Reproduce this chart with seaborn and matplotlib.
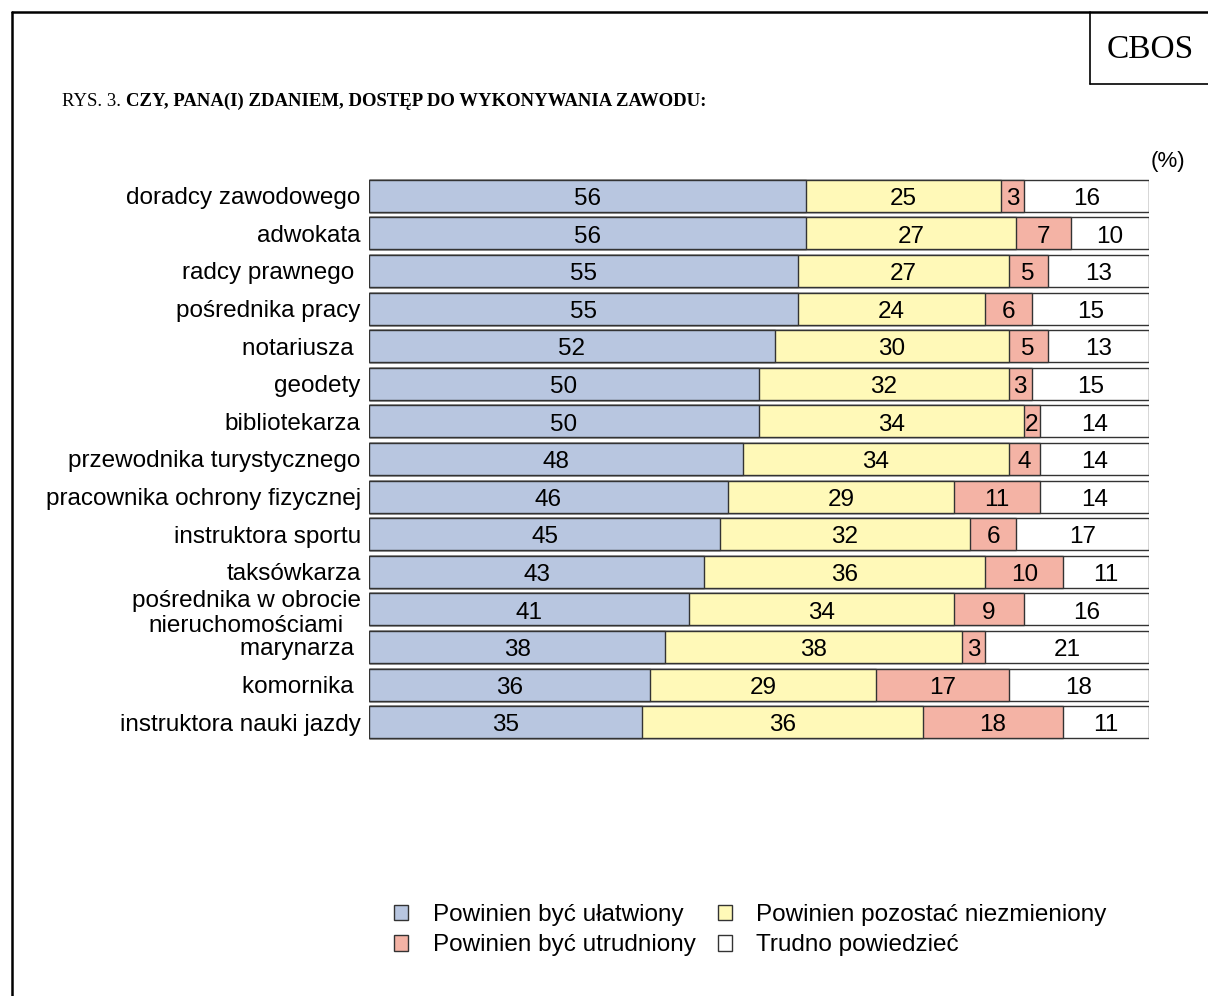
import matplotlib
matplotlib.use('Agg')
import matplotlib.pyplot as plt
from matplotlib.patches import Patch
from matplotlib.lines import Line2D
import seaborn as sns
import numpy as np

# Data (%)
categories = [
    'doradcy zawodowego',
    'adwokata',
    'radcy prawnego ',
    'pośrednika pracy',
    'notariusza ',
    'geodety',
    'bibliotekarza',
    'przewodnika turystycznego',
    'pracownika ochrony fizycznej',
    'instruktora sportu',
    'taksówkarza',
    'pośrednika w obrocie\nnieruchomościami',
    'marynarza ',
    'komornika ',
    'instruktora nauki jazdy',
]
easier = [56, 56, 55, 55, 52, 50, 50, 48, 46, 45, 43, 41, 38, 36, 35]
unchanged = [25, 27, 27, 24, 30, 32, 34, 34, 29, 32, 36, 34, 38, 29, 36]
harder = [3, 7, 5, 6, 5, 3, 2, 4, 11, 6, 10, 9, 3, 17, 18]
dont_know = [16, 10, 13, 15, 13, 15, 14, 14, 14, 17, 11, 16, 21, 18, 11]

series_names = ['Powinien być ułatwiony', 'Powinien pozostać niezmieniony',
                'Powinien być utrudniony', 'Trudno powiedzieć']
colors = ['#B8C6E0', '#FFF9B8', '#F4B3A5', '#FFFFFF']

sns.set_style('white')
plt.rcParams['font.family'] = ['Liberation Sans', 'DejaVu Sans']
plt.rcParams['text.color'] = 'black'
plt.rcParams['ytick.labelcolor'] = 'black'

fig = plt.figure(figsize=(12.08, 9.96), dpi=100)
ax = fig.add_axes([369 / 1208, 1 - 741 / 996, 780 / 1208, 564 / 996])

series = [easier, unchanged, harder, dont_know]
cum = np.cumsum(np.array(series), axis=0)

# stacked bars: draw cumulative totals from the back to the front
for i in range(3, -1, -1):
    sns.barplot(x=cum[i], y=categories, color=colors[i], orient='h',
                width=0.85, edgecolor='#333333', linewidth=1.0,
                errorbar=None, saturation=1, ax=ax)

# value labels in the middle of each segment
for i, vals in enumerate(series):
    starts = cum[i] - np.array(vals)
    for j, v in enumerate(vals):
        ax.text(starts[j] + v / 2, j + 0.02, str(v), ha='center', va='center_baseline',
                fontsize=17.5, color='black')

ax.set_xlim(0, 100)
ax.set_ylim(14.5, -0.5)
ax.set_xlabel('')
ax.set_ylabel('')
ax.set_xticks([])
for s in ax.spines.values():
    s.set_visible(False)
ax.tick_params(axis='y', length=0, pad=6, labelsize=17.5)
for lab in ax.get_yticklabels():
    lab.set_horizontalalignment('right')
    lab.set_multialignment('center')

ax.text(1.0 + 36 / 780, 1 + 16 / 564, '(%)', transform=ax.transAxes,
        ha='right', va='center', fontsize=16)

# legend
handles = [Patch(facecolor=colors[k], edgecolor='#333333', linewidth=1.0,
                 label=series_names[k]) for k in [0, 2, 1, 3]]
fig.legend(handles=handles, ncol=2, loc='upper left',
           bbox_to_anchor=(372 / 1208, 1 - 882 / 996),
           frameon=False, fontsize=17.5, handlelength=0.6, handleheight=0.6,
           handletextpad=1.0, columnspacing=0.9, labelspacing=0.35)

# title and frame
t1 = fig.text(62 / 1208, 1 - 101 / 996, 'RYS. 3. ', fontsize=13.5,
              family='Liberation Serif', va='center', ha='left')
fig.canvas.draw()
bb = t1.get_window_extent(renderer=fig.canvas.get_renderer())
fig.text(bb.x1 / fig.bbox.width, 1 - 101 / 996,
         'CZY, PANA(I) ZDANIEM, DOSTĘP DO WYKONYWANIA ZAWODU:',
         fontsize=13.5, family='Liberation Serif', weight='bold', va='center', ha='left')
fig.text(1150 / 1208, 1 - 50 / 996, 'CBOS', fontsize=24, family='Liberation Serif',
         va='center', ha='center')

fig.add_artist(Line2D([12 / 1208, 12 / 1208], [0, 1 - 12 / 996], color='black', lw=1.8,
                      transform=fig.transFigure))
fig.add_artist(Line2D([12 / 1208, 1], [1 - 12 / 996, 1 - 12 / 996], color='black', lw=1.8,
                      transform=fig.transFigure))
fig.add_artist(Line2D([1090 / 1208, 1090 / 1208], [1 - 12 / 996, 1 - 84 / 996], color='black',
                      lw=1.2, transform=fig.transFigure))
fig.add_artist(Line2D([1090 / 1208, 1], [1 - 84 / 996, 1 - 84 / 996], color='black',
                      lw=1.2, transform=fig.transFigure))

fig.savefig('out.png', dpi=100, facecolor='white')
